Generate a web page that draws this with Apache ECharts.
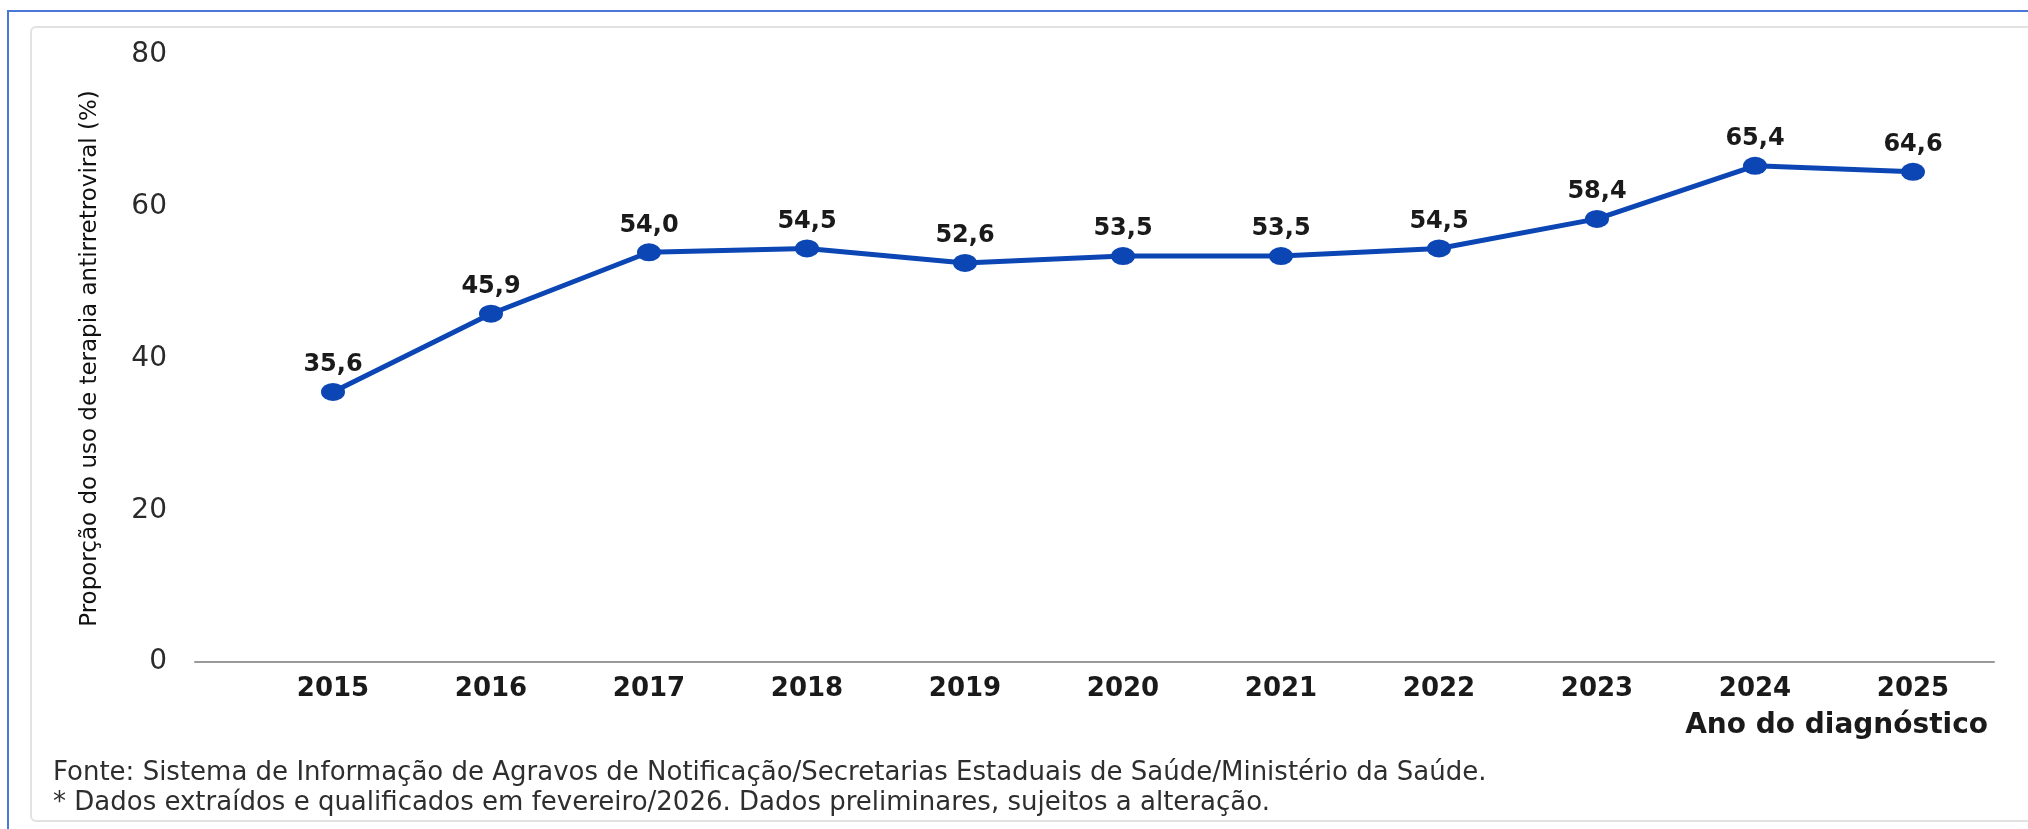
<!DOCTYPE html>
<html>
<head>
<meta charset="utf-8">
<title>Proporção do uso de terapia antirretroviral</title>
<script src="https://cdn.jsdelivr.net/npm/echarts@6/dist/echarts.min.js"></script>
<style>
  html, body { margin: 0; padding: 0; background: #fff; }
  .frame {
    position: absolute; left: 7px; top: 10px; width: 2030px; height: 830px;
    border-left: 2px solid #4a78d8; border-top: 2px solid #4a78d8;
  }
  .card {
    position: absolute; left: 30px; top: 26px; width: 2010px; height: 792px;
    border: 2px solid #e2e2e2; border-radius: 6px; background: #fff;
  }
  #chart { position: absolute; left: 0; top: 0; width: 2028px; height: 829px; }
</style>
</head>
<body>
<div class="frame"></div>
<div class="card"></div>
<div id="chart"></div>
<script>
  // anos do diagnóstico
  const anos = ['2015', '2016', '2017', '2018', '2019', '2020', '2021', '2022', '2023', '2024', '2025']
  // proporção do uso de TARV (%)
  const proporcao = [35.6, 45.9, 54.0, 54.5, 52.6, 53.5, 53.5, 54.5, 58.4, 65.4, 64.6]
  const yTicks = [0, 20, 40, 60, 80]

  const fonte = [
    'Fonte: Sistema de Informação de Agravos de Notificação/Secretarias Estaduais de Saúde/Ministério da Saúde.',
    '* Dados extraídos e qualificados em fevereiro/2026. Dados preliminares, sujeitos a alteração.',
  ]

  const font = 'DejaVu Sans'
  const blue = '#0b46b4'

  const chart = echarts.init(document.getElementById('chart'))

  chart.setOption({
    animation: false,
    textStyle: { fontFamily: font },
    title: {
      text: fonte.join('\n'),
      left: 48,
      top: 753,
      textStyle: { fontFamily: font, fontSize: 26, fontWeight: 'normal', color: '#2e2e2e', lineHeight: 30 },
    },
    grid: [
      // plot area
      { left: 254, right: 36, top: 55, bottom: 167 },
      // baseline only (it starts further left than the categories)
      { left: 195, right: 34, top: 55, bottom: 167 },
    ],
    xAxis: [
      {
        type: 'category',
        gridIndex: 0,
        data: anos,
        axisLine: { show: false },
        axisTick: { show: false },
        axisLabel: { fontFamily: font, fontSize: 26, fontWeight: 'bold', color: '#1a1a1a', margin: 14 },
        name: 'Ano do diagnóstico',
        nameLocation: 'end',
        nameGap: -4,
        nameTextStyle: {
          fontFamily: font, fontSize: 28, fontWeight: 'bold', color: '#1a1a1a',
          align: 'right', verticalAlign: 'top', padding: [50, 0, 0, 0],
        },
      },
      {
        type: 'value',
        gridIndex: 1,
        min: 0,
        max: 1,
        axisLine: { show: true, onZero: false, lineStyle: { color: '#9a9a9a', width: 2 } },
        axisTick: { show: false },
        axisLabel: { show: false },
        splitLine: { show: false },
      },
    ],
    yAxis: [
      {
        type: 'value',
        gridIndex: 0,
        min: yTicks[0],
        max: yTicks[yTicks.length - 1],
        interval: 20,
        axisLine: { show: false },
        axisTick: { show: false },
        splitLine: { show: false },
        axisLabel: { fontFamily: font, fontSize: 28, color: '#2a2a2a', margin: 87 },
        name: 'Proporção do uso de terapia antirretroviral (%)',
        nameLocation: 'middle',
        nameRotate: 90,
        nameGap: 152,
        nameTextStyle: { fontFamily: font, fontSize: 23, color: '#111' },
      },
      { type: 'value', gridIndex: 1, min: 0, max: 1, show: false },
    ],
    series: [
      {
        type: 'line',
        xAxisIndex: 0,
        yAxisIndex: 0,
        data: proporcao,
        symbol: 'circle',
        symbolSize: [24, 18],
        lineStyle: { color: blue, width: 5 },
        itemStyle: { color: blue },
        label: {
          show: true,
          position: 'top',
          distance: 6,
          fontFamily: font,
          fontSize: 24,
          fontWeight: 'bold',
          color: '#1a1a1a',
          formatter: (p) => p.value.toFixed(1).replace('.', ','),
        },
      },
    ],
  })
</script>
</body>
</html>
